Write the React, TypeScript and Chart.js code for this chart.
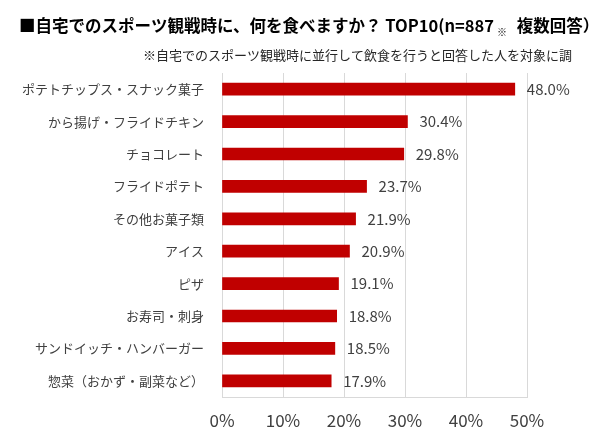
import React, { useEffect, useRef } from "react";
import { Chart, registerables } from "chart.js";

Chart.register(...registerables);

const categories = [
  "ポテトチップス・スナック菓子",
  "から揚げ・フライドチキン",
  "チョコレート",
  "フライドポテト",
  "その他お菓子類",
  "アイス",
  "ピザ",
  "お寿司・刺身",
  "サンドイッチ・ハンバーガー",
  "惣菜（おかず・副菜など）",
];
const values = [48.0, 30.4, 29.8, 23.7, 21.9, 20.9, 19.1, 18.8, 18.5, 17.9];
const xTicks = [0, 10, 20, 30, 40, 50];

const titleMain = "■自宅でのスポーツ観戦時に、何を食べますか？ TOP10(n=887";
const titleMark = "※";
const titleTail = " 複数回答）";
const subtitle = "※自宅でのスポーツ観戦時に並行して飲食を行うと回答した人を対象に調";

const FONT = "'Noto Sans CJK JP', 'Noto Sans', sans-serif";
const TEXT = "#404040";

const headerPlugin = {
  id: "header",
  afterDraw(chart: any) {
    const ctx = chart.ctx;
    ctx.save();
    ctx.textBaseline = "middle";
    ctx.textAlign = "left";
    ctx.fillStyle = "#000000";
    ctx.font = `bold 16.5px ${FONT}`;
    let x = 19;
    ctx.fillText(titleMain, x, 26);
    x += ctx.measureText(titleMain).width + 3;
    ctx.font = `10px ${FONT}`;
    ctx.fillText(titleMark, x, 32);
    x += ctx.measureText(titleMark).width + 6;
    ctx.font = `bold 16.5px ${FONT}`;
    ctx.fillText(titleTail, x, 26);
    ctx.font = `13px ${FONT}`;
    ctx.fillStyle = "#262626";
    ctx.textAlign = "right";
    ctx.fillText(subtitle, 572, 55);
    ctx.restore();
  },
};

const valueLabelPlugin = {
  id: "valueLabels",
  afterDatasetsDraw(chart: any) {
    const ctx = chart.ctx;
    const meta = chart.getDatasetMeta(0);
    ctx.save();
    ctx.font = `15px ${FONT}`;
    ctx.fillStyle = TEXT;
    ctx.textAlign = "left";
    ctx.textBaseline = "middle";
    meta.data.forEach((bar: any, i: number) => {
      ctx.fillText(values[i].toFixed(1) + "%", bar.x + 12, bar.y);
    });
    ctx.restore();
  },
};

export default function App() {
  const ref = useRef<HTMLCanvasElement>(null);
  useEffect(() => {
    document.body.style.margin = "0";
    const chart = new Chart(ref.current!, {
      type: "bar",
      data: {
        labels: categories,
        datasets: [
          {
            data: values,
            backgroundColor: "#c00000",
            borderWidth: 0,
            barThickness: 12,
          },
        ],
      },
      options: {
        indexAxis: "y",
        responsive: false,
        animation: false,
        layout: { padding: { top: 73, right: 73, bottom: 0, left: 0 } },
        plugins: {
          legend: { display: false },
          tooltip: { enabled: false },
        },
        scales: {
          x: {
            min: 0,
            max: 50,
            afterBuildTicks(scale: any) {
              scale.ticks = xTicks.map((v) => ({ value: v }));
            },
            afterFit(scale: any) {
              scale.height = 47;
            },
            ticks: {
              callback: (v: any) => v + "%",
              color: TEXT,
              font: { family: FONT, size: 17 },
              padding: 13,
            },
            grid: { color: "#d9d9d9", drawTicks: false, lineWidth: 1 },
            border: { display: true, color: "#d9d9d9" },
          },
          y: {
            afterFit(scale: any) {
              scale.width = 222;
            },
            ticks: {
              color: TEXT,
              font: { family: FONT, size: 13 },
              padding: 18,
              autoSkip: false,
            },
            grid: { display: false, drawTicks: false },
            border: { display: true, color: "#d9d9d9" },
          },
        },
      },
      plugins: [headerPlugin, valueLabelPlugin],
    });
    return () => chart.destroy();
  }, []);
  return (
    <div style={{ position: "absolute", left: 0, top: 0, width: 600, height: 444, background: "#fff" }}>
      <canvas ref={ref} width={600} height={444} />
    </div>
  );
}
